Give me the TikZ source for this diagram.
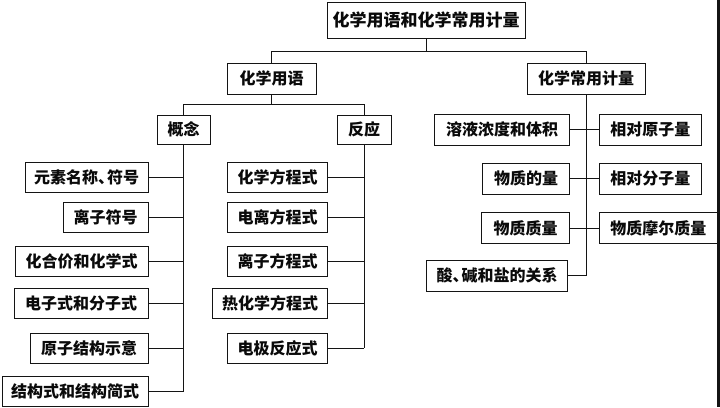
\documentclass[tikz,border=0pt]{standalone}
\usepackage{fontspec}
\setmainfont{Noto Sans CJK SC}
\usepackage{tikz}
\usetikzlibrary{
  positioning,
  calc
}
\definecolor{linecolor}{RGB}{20, 20, 20}
\definecolor{labelcolor}{RGB}{10, 10, 10}
\tikzset{
blocktext/.style={
  align=center,
  font=\fontsize{16}{18}\selectfont\bfseries,
  text=labelcolor
},
block/.style={
  draw=linecolor,
  line width=0.9pt,
  fill=white,
  inner sep=0pt,
  minimum height=30pt,
  blocktext
},
titleblock/.style={
  block,
  minimum height=36pt,
  font=\fontsize{17}{19}\selectfont\bfseries
},
link/.style={
  draw=linecolor,
  line width=0.8pt
}
}
% half-width comma
\newcommand{\hdun}{、\kern-7pt}

\begin{document}
\begin{tikzpicture}[x=1pt, y=-1pt]
  \useasboundingbox (0,0) rectangle (720,407);
  % Column edges
  \def\colA{148.5}  % right edge, concepts
  \def\colB{328}    % right edge, reactions
  \def\colC{570}    % right edge, quantities (left)
  \def\colD{599}    % left edge, quantities (right)

  % Top levels
  \node[titleblock, minimum width=198pt] (root) at (426, 20) {化学用语和化学常用计量};
  \node[block, minimum width=89pt, minimum height=31pt] (yuyu) at (271.5, 78.5) {化学用语};
  \node[block, minimum width=118pt, minimum height=31pt] (jiliang) at (586, 78.5) {化学常用计量};
  \node[block, minimum width=53pt, minimum height=29pt] (gainian) at (183.5, 129.5) {概念};
  \node[block, minimum width=54pt, minimum height=29pt] (fanying) at (364, 129.5) {反应};

  % Concepts
  \node[block, anchor=east, minimum width=123pt] (gn1) at (\colA, 177) {元素名称\hdun 符号};
  \node[block, anchor=east, minimum width=85pt]  (gn2) at (\colA, 217) {离子符号};
  \node[block, anchor=east, minimum width=133pt] (gn3) at (\colA, 261.5) {化合价和化学式};
  \node[block, anchor=east, minimum width=134pt] (gn4) at (\colA, 303) {电子式和分子式};
  \node[block, anchor=east, minimum width=118pt] (gn5) at (\colA, 348) {原子结构示意};
  \node[block, anchor=east, minimum width=146pt] (gn6) at (\colA, 391.5) {结构式和结构简式};

  % Reactions
  \node[block, anchor=east, minimum width=100pt] (fy1) at (\colB, 177) {化学方程式};
  \node[block, anchor=east, minimum width=100pt] (fy2) at (\colB, 217) {电离方程式};
  \node[block, anchor=east, minimum width=100pt] (fy3) at (\colB, 261.5) {离子方程式};
  \node[block, anchor=east, minimum width=115pt] (fy4) at (\colB, 303) {热化学方程式};
  \node[block, anchor=east, minimum width=100pt] (fy5) at (\colB, 348) {电极反应式};

  % Quantities
  \node[block, anchor=east, minimum width=135pt, minimum height=31pt] (jl1) at (\colC, 129.5) {溶液浓度和体积};
  \node[block, anchor=east, minimum width=87pt, minimum height=31pt]  (jl2) at (\colC, 178.5) {物质的量};
  \node[block, anchor=east, minimum width=88pt, minimum height=31pt]  (jl3) at (\colC, 228) {物质质量};
  \node[block, anchor=east, minimum width=141pt, minimum height=31pt] (jl4) at (568, 275.5) {酸\hdun 碱和盐的关系};
  \node[block, anchor=west, minimum width=102pt, minimum height=31pt] (jr1) at (\colD, 129.5) {相对原子量};
  \node[block, anchor=west, minimum width=102pt, minimum height=31pt] (jr2) at (\colD, 178.5) {相对分子量};
  \node[block, anchor=west, minimum width=118pt, minimum height=31pt] (jr3) at (\colD, 228) {物质摩尔质量};

  % Tree links
  \draw[link] (root.south) -- ++(0,13) coordinate (busA);
  \draw[link] (yuyu.north) |- (busA) -| (jiliang.north);
  \draw[link] (yuyu.south) -- ++(0,10) coordinate (busB);
  \draw[link] (gainian.north) |- (busB) -| (fanying.north);

  \draw[link] (gainian.south) -- (gainian.south |- gn6.east);
  \foreach \n in {gn1,gn2,gn3,gn4,gn5,gn6} {
    \draw[link] (\n.east) -- (gainian.south |- \n.east);
  }
  \draw[link] (fanying.south) -- (fanying.south |- fy5.east);
  \foreach \n in {fy1,fy2,fy3,fy4,fy5} {
    \draw[link] (\n.east) -- (fanying.south |- \n.east);
  }
  \draw[link] (jiliang.south) -- (jiliang.south |- jl4.east);
  \foreach \n in {jl1,jl2,jl3,jl4} {
    \draw[link] (\n.east) -- (jiliang.south |- \n.east);
  }
  \foreach \n in {jr1,jr2,jr3} {
    \draw[link] (\n.west) -- (jiliang.south |- \n.west);
  }

  % Dark edge at the right
  \fill[linecolor] (717,0) rectangle (720,407);
\end{tikzpicture}
\end{document}
